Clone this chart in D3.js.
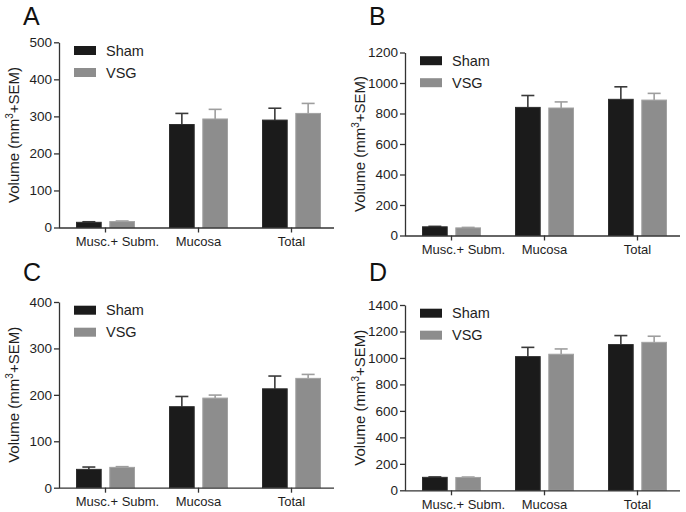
<!DOCTYPE html>
<html>
<head>
<meta charset="utf-8">
<script src="https://cdn.jsdelivr.net/npm/d3@7"></script>
<style>
  html, body { margin: 0; padding: 0; background: #fff; }
  svg { display: block; }
  text { font-family: "Liberation Sans", Arial, sans-serif; fill: #1e1e1e; }
</style>
</head>
<body>
<svg id="chart" width="686" height="512"></svg>
<script>
// ---------- data ----------
const categories = ["Musc.+ Subm.", "Mucosa", "Total"];
const seriesNames = ["Sham", "VSG"];
const panelLetters = ["A", "B", "C", "D"];

const shamA = [14, 278, 290];
const shamSemA = [1.5, 30, 32];
const vsgA = [16, 293, 308];
const vsgSemA = [1.5, 26, 27];

const shamB = [57, 840, 893];
const shamSemB = [3, 78, 82];
const vsgB = [50, 836, 888];
const vsgSemB = [3, 40, 44];

const shamC = [39.5, 174.5, 213];
const shamSemC = [5, 22, 27.5];
const vsgC = [43.8, 193, 235.5];
const vsgSemC = [1.5, 6.5, 8.5];

const shamD = [98, 1010, 1101];
const shamSemD = [3, 70, 68];
const vsgD = [97, 1028, 1118];
const vsgSemD = [3, 40, 46];

const yTicksA = [0, 100, 200, 300, 400, 500];
const yTicksB = [0, 200, 400, 600, 800, 1000, 1200];
const yTicksC = [0, 100, 200, 300, 400];
const yTicksD = [0, 200, 400, 600, 800, 1000, 1200, 1400];

// ---------- layout ----------
const panels = [
  { letter: panelLetters[0], oy: 0,   left: 59,  top: 42.3, bottom: 227.5, ticks: yTicksA, sham: shamA, shamSem: shamSemA, vsg: vsgA, vsgSem: vsgSemA },
  { letter: panelLetters[1], oy: 0,   left: 405, top: 52.5, bottom: 235.5, ticks: yTicksB, sham: shamB, shamSem: shamSemB, vsg: vsgB, vsgSem: vsgSemB },
  { letter: panelLetters[2], oy: 256, left: 59,  top: 302,  bottom: 487.7, ticks: yTicksC, sham: shamC, shamSem: shamSemC, vsg: vsgC, vsgSem: vsgSemC },
  { letter: panelLetters[3], oy: 256, left: 405, top: 305,  bottom: 490.3, ticks: yTicksD, sham: shamD, shamSem: shamSemD, vsg: vsgD, vsgSem: vsgSemD }
];

const colors = { Sham: "#1b1b1b", VSG: "#8d8d8d" };
const strokes = { Sham: "#2e2e2e", VSG: "#a2a2a2" };
const errColors = { Sham: "#3a3a3a", VSG: "#9e9e9e" };
const axisColor = "#333";

const svg = d3.select("#chart");

panels.forEach(p => {
  const g = svg.append("g");
  const xRight = p.left + 279;
  const x = d3.scaleBand().domain(categories).range([p.left, xRight]).paddingInner(0).paddingOuter(0);
  const inner = d3.scaleBand().domain(seriesNames).range([-29.5, 29.5]).paddingInner(0.228);
  const yMax = p.ticks[p.ticks.length - 1];
  const y = d3.scaleLinear().domain([0, yMax]).range([p.bottom, p.top]);

  // panel letter
  g.append("text")
    .attr("x", p.left - 36)
    .attr("y", p.oy + 25)
    .style("font-family", "'Liberation Sans', Arial, sans-serif")
    .style("font-size", "25px")
    .style("fill", "#111")
    .text(p.letter);

  const rows = categories.map((c, i) => ({
    cat: c,
    vals: [
      { s: "Sham", v: p.sham[i], e: p.shamSem[i] },
      { s: "VSG", v: p.vsg[i], e: p.vsgSem[i] }
    ]
  }));

  const grp = g.selectAll("g.cat").data(rows).enter().append("g")
    .attr("transform", d => `translate(${x(d.cat) + x.bandwidth() / 2},0)`);

  // error bars (upper only)
  const eb = grp.selectAll("g.err").data(d => d.vals).enter().append("g");
  eb.append("line")
    .attr("x1", d => inner(d.s) + inner.bandwidth() / 2)
    .attr("x2", d => inner(d.s) + inner.bandwidth() / 2)
    .attr("y1", d => y(d.v))
    .attr("y2", d => y(d.v + d.e))
    .attr("stroke", d => errColors[d.s])
    .attr("stroke-width", 1.6);
  eb.append("line")
    .attr("x1", d => inner(d.s) + inner.bandwidth() / 2 - 6.5)
    .attr("x2", d => inner(d.s) + inner.bandwidth() / 2 + 6.5)
    .attr("y1", d => y(d.v + d.e))
    .attr("y2", d => y(d.v + d.e))
    .attr("stroke", d => errColors[d.s])
    .attr("stroke-width", 1.6);

  grp.selectAll("rect").data(d => d.vals).enter().append("rect")
    .attr("x", d => inner(d.s) + 0.5)
    .attr("width", inner.bandwidth() - 1)
    .attr("y", d => y(d.v))
    .attr("height", d => Math.max(0, p.bottom - y(d.v)))
    .attr("fill", d => colors[d.s])
    .attr("stroke", d => strokes[d.s])
    .attr("stroke-width", 1);

  // y axis
  const yAxis = d3.axisLeft(y).tickValues(p.ticks).tickFormat(d3.format("d")).tickSize(5).tickPadding(2).tickSizeOuter(0);
  const yg = g.append("g").attr("transform", `translate(${p.left},0)`).call(yAxis);
  yg.selectAll("path, line").attr("stroke", axisColor).attr("stroke-width", 1.3);
  yg.selectAll("text").style("font-size", "13.5px").style("font-family", "'Liberation Sans', Arial, sans-serif").attr("fill", "#1e1e1e");

  // x axis
  const xAxis = d3.axisBottom(x).tickSize(5).tickPadding(4).tickSizeOuter(0);
  const xg = g.append("g").attr("transform", `translate(0,${p.bottom})`).call(xAxis);
  xg.select("path.domain").attr("d", `M${p.left},0.5H${p.left + 275}`);
  xg.selectAll("path, line").attr("stroke", axisColor).attr("stroke-width", 1.3);
  xg.selectAll("text").style("font-size", "13px").style("font-family", "'Liberation Sans', Arial, sans-serif").attr("fill", "#1e1e1e")
    .attr("dx", d => d === categories[0] ? 12 : 0);

  // y label
  const yl = g.append("text")
    .attr("transform", `translate(${p.left - 40},${(p.top + p.bottom) / 2}) rotate(-90)`)
    .attr("text-anchor", "middle")
    .style("font-size", "15px");
  yl.append("tspan").text("Volume (mm");
  yl.append("tspan").attr("dy", -6).style("font-size", "10px").text("3");
  yl.append("tspan").attr("dy", 6).text("+SEM)");

  // legend
  seriesNames.forEach((s, i) => {
    const ly = p.top + 3.7 + i * 22;
    g.append("rect")
      .attr("x", p.left + 15).attr("y", ly)
      .attr("width", 22).attr("height", 9)
      .attr("fill", colors[s]);
    g.append("text")
      .attr("x", p.left + 47).attr("y", ly + 9.5)
      .style("font-size", "14.5px")
      .text(s);
  });
});
</script>
</body>
</html>
